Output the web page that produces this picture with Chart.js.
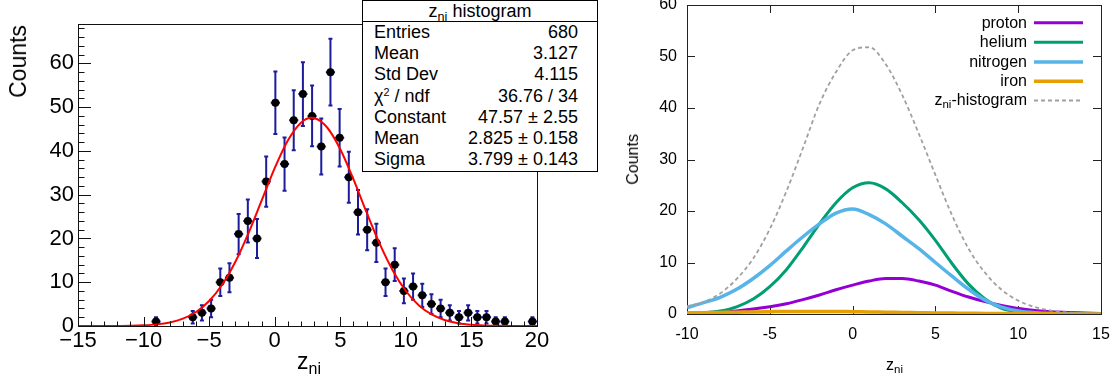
<!DOCTYPE html>
<html>
<head>
<meta charset="utf-8">
<script src="https://cdn.jsdelivr.net/npm/chart.js@4.4.0/dist/chart.umd.min.js"></script>
<style>
  html, body { margin: 0; padding: 0; background: #fff; }
  #wrap { position: relative; width: 1117px; height: 385px; overflow: hidden;
          font-family: "Liberation Sans", Arial, sans-serif; color: #000; }
  #c1 { position: absolute; left: 0; top: 0; }
  #c2 { position: absolute; left: 600px; top: 0; }
  .abs { position: absolute; white-space: nowrap; }
  .vt { writing-mode: vertical-rl; transform: rotate(180deg); }
  #stats { position: absolute; left: 362px; top: 0px; width: 236px; height: 172px;
           border: 1px solid #000; background: #fff; box-sizing: border-box; font-size: 18px; }
  #stats .ttl { height: 20px; line-height: 20px; text-align: center; border-bottom: 1px solid #000; }
  #stats .row { display: flex; justify-content: space-between; height: 21.2px; line-height: 21.2px;
                padding-left: 11px; padding-right: 19px; }
  sub.s { font-size: 0.7em; vertical-align: -0.3em; line-height: 0; }
  sup.s { font-size: 0.6em; vertical-align: 0.55em; line-height: 0; }
  .leg { position: absolute; right: 90px; height: 20px; line-height: 20px; font-size: 16px; text-align: right; white-space: nowrap; }
</style>
</head>
<body>
<div id="wrap">
  <canvas id="c1" width="600" height="385"></canvas>
  <canvas id="c2" width="517" height="385"></canvas>

  <!-- left panel texts -->
  <div class="abs vt" style="left:6px; top:25px; font-size:23px; line-height:24px;">Counts</div>
  <div class="abs" style="left:297px; top:350px; font-size:23px; line-height:23px;">z<sub class="s" style="font-size:16px; vertical-align:-5px;">ni</sub></div>

  <div id="stats">
    <div class="ttl">z<sub class="s">ni</sub> histogram</div>
    <div class="row"><span>Entries</span><span>680</span></div>
    <div class="row"><span>Mean</span><span>3.127</span></div>
    <div class="row"><span>Std Dev</span><span>4.115</span></div>
    <div class="row"><span>&chi;<sup class="s">2</sup> / ndf</span><span>36.76 / 34</span></div>
    <div class="row"><span>Constant</span><span>47.57 &plusmn; 2.55</span></div>
    <div class="row"><span>Mean</span><span>2.825 &plusmn; 0.158</span></div>
    <div class="row"><span>Sigma</span><span>3.799 &plusmn; 0.143</span></div>
  </div>

  <!-- right panel texts -->
  <div class="abs vt" style="left:623px; top:134px; font-size:16px; line-height:20px;">Counts</div>
  <div class="abs" style="left:886px; top:357px; font-size:16px; line-height:16px;">z<sub class="s" style="font-size:11.5px; vertical-align:-3px;">ni</sub></div>

  <div class="leg" style="top:13px;">proton</div>
  <div class="leg" style="top:32px;">helium</div>
  <div class="leg" style="top:52px;">nitrogen</div>
  <div class="leg" style="top:71px;">iron</div>
  <div class="leg" style="top:90px;">z<sub class="s" style="font-size:11.5px; vertical-align:-3px;">ni</sub>-histogram</div>
</div>

<script>
// ================= LEFT PANEL DATA (ROOT histogram) =================
const zniBinCenters = [-9.05, -6.25, -5.55, -4.85, -4.15, -3.45, -2.75, -2.05, -1.35, -0.65,
                        0.05, 0.75, 1.45, 2.15, 2.85, 3.55, 4.25, 4.95, 5.65, 6.35,
                        7.05, 7.75, 8.45, 9.15, 9.85, 10.55, 11.25, 11.95, 12.65, 13.35,
                        14.05, 14.75, 15.45, 16.15, 16.85, 17.55, 19.65];
const zniCounts = [1, 2, 3, 4, 10, 11, 21, 24, 20, 33,
                   51, 37, 47, 53, 48, 41, 58, 43, 34, 26,
                   22, 19, 10, 14, 8, 9, 7, 5, 4, 3,
                   2, 3, 2, 2, 1, 1, 1];
const zniBinHalfWidth = 0.35;

// Gaussian fit curve
const fitX = [-15, -14, -13, -12, -11, -10, -9, -8, -7, -6, -5, -4, -3, -2, -1, 0, 1, 2, 2.8, 3,
              4, 5, 6, 7, 8, 9, 10, 11, 12, 13, 14, 15, 16, 17, 18, 19, 20];
const fitY = [0, 0, 0.01, 0.02, 0.06, 0.16, 0.37, 0.82, 1.68, 3.2, 5.7, 9.47, 14.68, 21.24, 28.66, 36.08, 42.39, 46.46, 47.57, 47.52,
              45.35, 40.38, 33.55, 26.01, 18.81, 12.7, 8.0, 4.7, 2.58, 1.32, 0.63, 0.28, 0.12, 0.05, 0.02, 0.01, 0];

const leftXTicks = [-15, -10, -5, 0, 5, 10, 15, 20];
const leftYTicks = [0, 10, 20, 30, 40, 50, 60];

// ================= RIGHT PANEL DATA (component curves) =================
const zGrid = [-10, -9, -8, -7, -6, -5, -4, -3, -2, -1, 0, 1, 2, 3, 4, 5, 6, 7, 8, 9, 10, 11, 12, 13, 14, 15];
const proton   = [0.15, 0.25, 0.4, 0.6, 0.95, 1.4, 2.0, 2.8, 3.7, 4.7, 5.6, 6.4, 6.9, 6.9, 6.4, 5.6, 4.4, 3.3, 2.4, 1.65, 1.05, 0.7, 0.45, 0.3, 0.2, 0.1];
const helium   = [0.1, 0.25, 0.6, 1.4, 2.9, 5.3, 8.6, 12.9, 17.5, 21.6, 24.5, 25.5, 24.3, 21.6, 18.3, 14.3, 9.8, 5.8, 2.9, 1.1, 0.45, 0.2, 0.1, 0.05, 0.02, 0];
const nitrogen = [1.25, 2.2, 3.25, 4.8, 6.9, 9.4, 12.25, 15.0, 17.5, 19.6, 20.4, 19.3, 17.5, 15.1, 12.7, 10.0, 7.35, 4.8, 2.7, 1.35, 0.6, 0.25, 0.1, 0.05, 0.02, 0];
const iron     = [0.2, 0.25, 0.3, 0.35, 0.4, 0.45, 0.5, 0.5, 0.5, 0.5, 0.45, 0.4, 0.35, 0.3, 0.25, 0.2, 0.17, 0.14, 0.1, 0.08, 0.06, 0.04, 0.03, 0.02, 0.01, 0];
const zniHistogramCurve = [1.5, 2.3, 4.0, 6.8, 10.8, 16.5, 23.8, 32.2, 40.8, 47.0, 51.2, 51.8, 48.5, 42.5, 35.0, 27.0, 19.2, 12.7, 8.0, 4.7, 2.6, 1.35, 0.65, 0.3, 0.13, 0.05];

const rightXTicks = [-10, -5, 0, 5, 10, 15];
const rightYTicks = [0, 10, 20, 30, 40, 50, 60];

const seriesNames  = ['proton', 'helium', 'nitrogen', 'iron', 'zni-histogram'];
const seriesColors = ['#9400d3', '#009e73', '#56b4e9', '#e69f00', '#a0a0a0'];

const noPad = s => { s.paddingTop = 0; s.paddingBottom = 0; s.paddingLeft = 0; s.paddingRight = 0; };

// ================= LEFT CHART =================
const leftPlugin = {
  id: 'rootStyle',
  beforeDatasetsDraw(chart) {
    const ctx = chart.ctx, xs = chart.scales.x, ys = chart.scales.y;
    ctx.save();
    ctx.strokeStyle = '#1c1c9c';
    ctx.lineWidth = 2;
    zniBinCenters.forEach((c, i) => {
      const n = zniCounts[i], e = Math.sqrt(n);
      const px = xs.getPixelForValue(c), py = ys.getPixelForValue(n);
      const pT = ys.getPixelForValue(n + e), pB = ys.getPixelForValue(n - e);
      const pl = xs.getPixelForValue(c - zniBinHalfWidth), pr = xs.getPixelForValue(c + zniBinHalfWidth);
      ctx.beginPath();
      ctx.moveTo(px, pT); ctx.lineTo(px, pB);
      ctx.moveTo(px - 2, pT); ctx.lineTo(px + 2, pT);
      ctx.moveTo(px - 2, pB); ctx.lineTo(px + 2, pB);
      ctx.moveTo(pl, py); ctx.lineTo(pr, py);
      ctx.stroke();
    });
    ctx.restore();
  },
  afterDatasetsDraw(chart) {
    const ctx = chart.ctx, a = chart.chartArea, xs = chart.scales.x, ys = chart.scales.y;
    ctx.save();
    ctx.strokeStyle = '#111';
    ctx.lineWidth = 1;
    ctx.strokeRect(Math.round(a.left) + 0.5, Math.round(a.top) + 0.5, Math.round(a.right - a.left), Math.round(a.bottom - a.top));
    ctx.beginPath();
    for (let v = 0; v <= ys.max; v += 2) {
      const p = Math.round(ys.getPixelForValue(v)) + 0.5;
      const len = (v % 10 === 0) ? 13 : 6.5;
      ctx.moveTo(a.left, p); ctx.lineTo(a.left + len, p);
    }
    for (let v = xs.min; v <= xs.max; v += 1) {
      const p = Math.round(xs.getPixelForValue(v)) + 0.5;
      const len = (v % 5 === 0) ? 9 : 4.5;
      ctx.moveTo(p, a.bottom); ctx.lineTo(p, a.bottom - len);
    }
    ctx.stroke();
    ctx.restore();
  }
};

const fmtMinus = v => (v < 0 ? '\u2212' + Math.abs(v) : String(v));

new Chart(document.getElementById('c1'), {
  type: 'scatter',
  data: {
    datasets: [
      { label: 'fit', type: 'line', data: fitX.map((x, i) => ({ x, y: fitY[i] })),
        borderColor: '#ff0000', borderWidth: 2, pointRadius: 0, fill: false,
        cubicInterpolationMode: 'monotone', order: 1 },
      { label: 'hist', data: zniBinCenters.map((x, i) => ({ x, y: zniCounts[i] })),
        pointStyle: 'circle', pointRadius: 4, pointBackgroundColor: '#000', pointBorderColor: '#000', pointBorderWidth: 0, order: 2 }
    ]
  },
  options: {
    responsive: false, animation: false, events: [],
    layout: { padding: { top: 24, right: 63, left: 0, bottom: 0 } },
    plugins: { legend: { display: false }, tooltip: { enabled: false }, title: { display: false } },
    scales: {
      x: {
        type: 'linear', min: -15, max: 20,
        afterBuildTicks: s => { s.ticks = leftXTicks.map(v => ({ value: v })); },
        afterFit: s => { s.height = 59; noPad(s); },
        grid: { display: false, drawTicks: false }, border: { display: false },
        ticks: { padding: 2, autoSkip: false, maxRotation: 0, color: '#000',
                 font: { family: 'Liberation Sans', size: 22 }, callback: v => fmtMinus(v) }
      },
      y: {
        type: 'linear', min: 0, max: 69,
        afterBuildTicks: s => { s.ticks = leftYTicks.map(v => ({ value: v })); },
        afterFit: s => { s.width = 78; noPad(s); },
        grid: { display: false, drawTicks: false }, border: { display: false },
        ticks: { padding: 4, autoSkip: false, color: '#000',
                 font: { family: 'Liberation Sans', size: 22 }, callback: v => String(v) }
      }
    }
  },
  plugins: [leftPlugin]
});

// ================= RIGHT CHART =================
const rightPlugin = {
  id: 'gnuplotStyle',
  beforeDatasetsDraw(chart) {
    const ctx = chart.ctx, a = chart.chartArea, xs = chart.scales.x, ys = chart.scales.y;
    ctx.save();
    ctx.strokeStyle = '#222';
    ctx.lineWidth = 1;
    ctx.strokeRect(Math.round(a.left) + 0.5, Math.round(a.top) + 0.5, Math.round(a.right - a.left), Math.round(a.bottom - a.top));
    ctx.beginPath();
    rightXTicks.forEach(v => {
      const p = Math.round(xs.getPixelForValue(v)) + 0.5;
      ctx.moveTo(p, a.bottom); ctx.lineTo(p, a.bottom - 8);
      ctx.moveTo(p, a.top); ctx.lineTo(p, a.top + 8);
    });
    rightYTicks.forEach(v => {
      const p = Math.round(ys.getPixelForValue(v)) + 0.5;
      ctx.moveTo(a.left, p); ctx.lineTo(a.left + 8, p);
      ctx.moveTo(a.right, p); ctx.lineTo(a.right - 8, p);
    });
    ctx.stroke();
    ctx.restore();
  },
  afterDatasetsDraw(chart) {
    const ctx = chart.ctx;
    const rows = [22.7, 42.3, 62, 81.3, 100.5];
    ctx.save();
    chart.data.datasets.forEach((ds, i) => {
      ctx.beginPath();
      ctx.strokeStyle = ds.borderColor;
      ctx.lineWidth = ds.borderWidth;
      ctx.setLineDash(ds.borderDash || []);
      ctx.moveTo(434, rows[i]); ctx.lineTo(483, rows[i]);
      ctx.stroke();
    });
    ctx.restore();
  }
};

const mk = (arr, i, w, extra) => Object.assign({
  label: seriesNames[i], data: zGrid.map((x, k) => ({ x, y: arr[k] })),
  borderColor: seriesColors[i], borderWidth: w, pointRadius: 0, fill: false,
  showLine: true, cubicInterpolationMode: 'monotone', order: 5 - i
}, extra || {});

new Chart(document.getElementById('c2'), {
  type: 'scatter',
  data: {
    datasets: [
      mk(proton, 0, 3),
      mk(helium, 1, 3),
      mk(nitrogen, 2, 3.5),
      mk(iron, 3, 3.5),
      mk(zniHistogramCurve, 4, 1.8, { borderDash: [4, 3] })
    ]
  },
  options: {
    responsive: false, animation: false, events: [],
    layout: { padding: { top: 5, right: 16, left: 0, bottom: 0 } },
    plugins: { legend: { display: false }, tooltip: { enabled: false }, title: { display: false } },
    scales: {
      x: {
        type: 'linear', min: -10, max: 15,
        afterBuildTicks: s => { s.ticks = rightXTicks.map(v => ({ value: v })); },
        afterFit: s => { s.height = 71; noPad(s); },
        grid: { display: false, drawTicks: false }, border: { display: false },
        ticks: { padding: 11, autoSkip: false, maxRotation: 0, color: '#000',
                 font: { family: 'Liberation Sans', size: 16 }, callback: v => String(v) }
      },
      y: {
        type: 'linear', min: 0, max: 60,
        afterBuildTicks: s => { s.ticks = rightYTicks.map(v => ({ value: v })); },
        afterFit: s => { s.width = 87; noPad(s); },
        grid: { display: false, drawTicks: false }, border: { display: false },
        ticks: { padding: 10, autoSkip: false, color: '#000',
                 font: { family: 'Liberation Sans', size: 16 }, callback: v => String(v) }
      }
    }
  },
  plugins: [rightPlugin]
});
</script>
</body>
</html>
